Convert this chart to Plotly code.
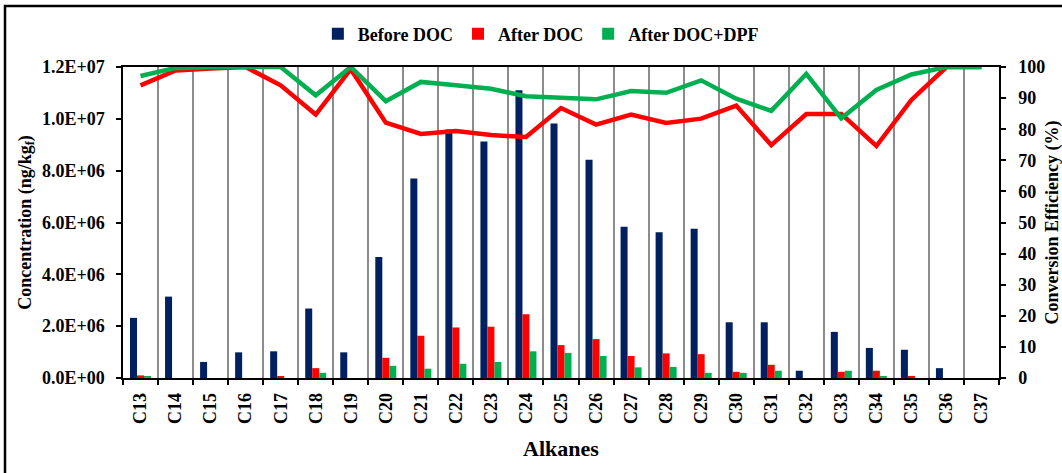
import plotly.graph_objects as go

categories = ["C%d" % n for n in range(13, 38)]

before_doc = [2.32e6, 3.14e6, 0.62e6, 0.99e6, 1.03e6, 2.68e6, 0.99e6, 4.67e6, 7.70e6, 9.59e6,
              9.13e6, 11.1e6, 9.82e6, 8.42e6, 5.84e6, 5.62e6, 5.76e6, 2.15e6, 2.15e6, 0.28e6,
              1.78e6, 1.16e6, 1.09e6, 0.38e6, 0.0]
after_doc = [0.10e6, 0.0, 0.0, 0.0, 0.04e6, 0.38e6, 0.0, 0.78e6, 1.63e6, 1.95e6,
             1.98e6, 2.46e6, 1.27e6, 1.50e6, 0.85e6, 0.95e6, 0.92e6, 0.24e6, 0.51e6, 0.0,
             0.24e6, 0.28e6, 0.08e6, 0.0, 0.0]
after_dpf = [0.04e6, 0.0, 0.0, 0.0, 0.0, 0.20e6, 0.0, 0.47e6, 0.36e6, 0.55e6,
             0.62e6, 1.03e6, 0.97e6, 0.85e6, 0.41e6, 0.43e6, 0.20e6, 0.20e6, 0.28e6, 0.0,
             0.28e6, 0.08e6, 0.0, 0.0, 0.0]

eff_doc = [94.1, 98.9, 99.5, 100, 94.1, 84.7, 99.3, 82.1, 78.5, 79.4,
           78.1, 77.5, 86.8, 81.5, 84.7, 82.0, 83.4, 87.6, 74.9, 84.9,
           84.9, 74.6, 89.4, 100, 100]
eff_dpf = [97.1, 99.7, 100, 100, 100, 90.9, 100, 89.0, 95.2, 94.1,
           93.0, 90.6, 90.1, 89.6, 92.3, 91.7, 95.7, 89.8, 85.9, 97.8,
           83.5, 92.6, 97.6, 100, 100]

left_ticks = [0, 2e6, 4e6, 6e6, 8e6, 10e6, 12e6]
left_ticktext = ["%.1E" % v for v in left_ticks]
right_ticks = list(range(0, 101, 10))
right_ticktext = ["\u00a0\u00a0%d" % v for v in right_ticks]

NAVY = "#002060"
RED = "#FF0000"
GREEN = "#00B050"
FONT = "Liberation Serif"

fig = go.Figure()
fig.add_trace(go.Bar(x=categories, y=before_doc, name="Before DOC", marker_color=NAVY,
                     marker_line_width=0))
fig.add_trace(go.Bar(x=categories, y=after_doc, name="After DOC", marker_color=RED,
                     marker_line_width=0))
fig.add_trace(go.Bar(x=categories, y=after_dpf, name="After DOC+DPF", marker_color=GREEN,
                     marker_line_width=0))
fig.add_trace(go.Scatter(x=categories, y=eff_doc, yaxis="y2", mode="lines",
                         line=dict(color=RED, width=4.5), showlegend=False))
fig.add_trace(go.Scatter(x=categories, y=eff_dpf, yaxis="y2", mode="lines",
                         line=dict(color=GREEN, width=4.5), showlegend=False))

fig.update_layout(
    width=1062, height=473,
    margin=dict(l=123, r=63, t=67, b=95, autoexpand=False),
    paper_bgcolor="white", plot_bgcolor="white",
    barmode="group", bargap=0.4, bargroupgap=0,
    font=dict(family=FONT, size=18, color="black", weight="bold"),
    legend=dict(orientation="h", x=0.477, xanchor="center", y=1.106, yanchor="middle",
                font=dict(family=FONT, size=18, color="black", weight="bold"),
                itemwidth=30, traceorder="normal"),
    xaxis=dict(
        type="category", tickson="boundaries", showgrid=True, gridcolor="#8c8c8c",
        gridwidth=1.5, showline=True, linecolor="black", linewidth=1.5, mirror=True,
        ticks="outside", ticklen=5, tickcolor="black", tickwidth=1.5, tickangle=-90,
        ticklabelstandoff=6,
        tickfont=dict(family=FONT, size=18, color="black", weight="bold"),
        title=dict(text="Alkanes", font=dict(family=FONT, size=22, color="black", weight="bold"),
                   standoff=18),
        range=[-0.5, len(categories) - 0.5],
    ),
    yaxis=dict(
        range=[0, 1.2e7], tickvals=left_ticks, ticktext=left_ticktext, showgrid=False,
        zeroline=False, showline=True, linecolor="black", linewidth=1.5,
        ticks="outside", ticklen=5, tickcolor="black", tickwidth=1.5, ticklabelstandoff=8,
        tickfont=dict(family=FONT, size=18, color="black", weight="bold"),
        title=dict(text="Concentration (ng/kg<sub>f</sub>)",
                   font=dict(family=FONT, size=18, color="black", weight="bold"), standoff=6),
    ),
    yaxis2=dict(
        overlaying="y", side="right", range=[0, 100], tickvals=right_ticks,
        ticktext=right_ticktext,
        showgrid=False, zeroline=False, showline=True, linecolor="black", linewidth=1.5,
        ticks="outside", ticklen=5, tickcolor="black", tickwidth=1.5,
        tickfont=dict(family=FONT, size=18, color="black", weight="bold"),
    ),
    annotations=[dict(text="Conversion Efficiency (%)", textangle=-90, xref="paper",
                      yref="paper", x=(1052 - 123) / 876, y=0.5, xanchor="center",
                      yanchor="middle", showarrow=False,
                      font=dict(family=FONT, size=18, color="black", weight="bold"))],
    shapes=[dict(type="rect", xref="paper", yref="paper",
                 x0=(5 - 123) / 876, x1=1.2, y0=-0.5, y1=(378 - 6) / 311,
                 line=dict(color="black", width=2.5), fillcolor="rgba(0,0,0,0)",
                 layer="below")],
)

fig.write_html("out.html", post_script="document.body.style.margin='0';",
               config={"displayModeBar": False})
